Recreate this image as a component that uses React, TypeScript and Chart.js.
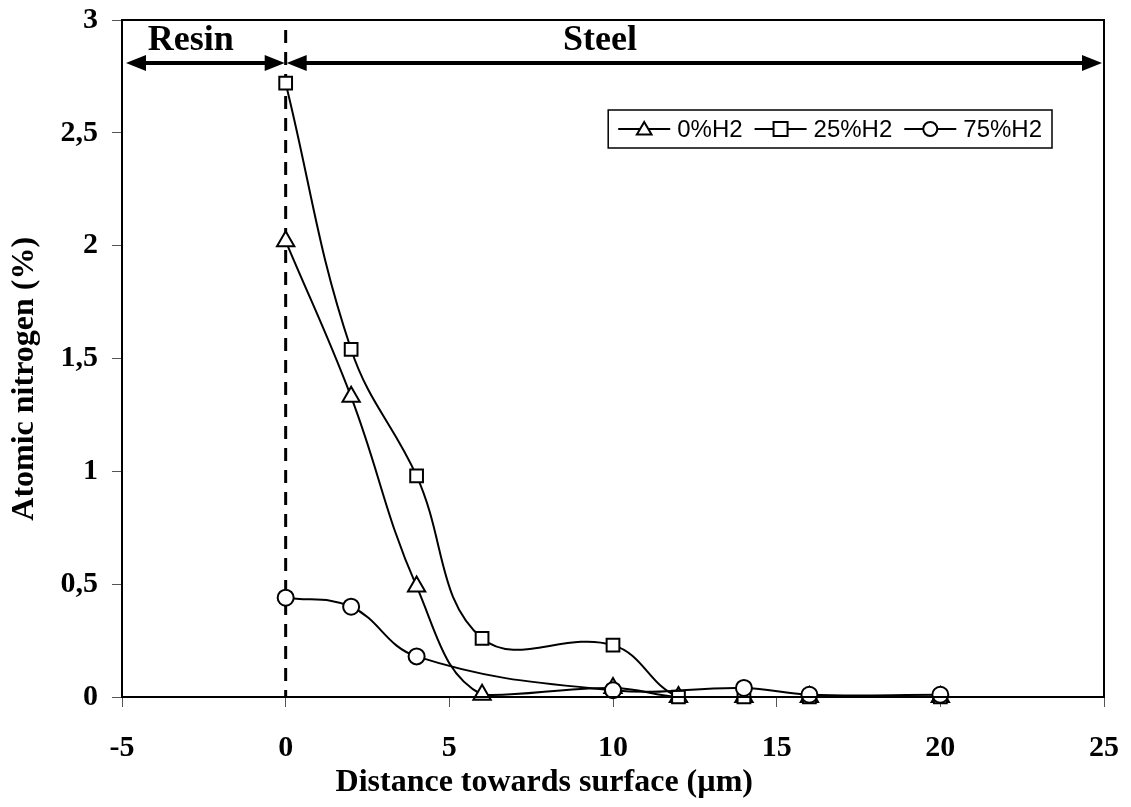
import React, { useEffect, useRef } from "react";
import { Chart, registerables } from "chart.js";

Chart.register(...registerables);

// ---- data ----
const distances = [0, 2, 4, 6, 10, 12, 14, 16, 20];
const nitrogen0 = [2.02, 1.33, 0.49, 0.01, 0.04, 0.0, 0.0, 0.0, 0.0];
const nitrogen25 = [2.72, 1.54, 0.98, 0.26, 0.23, 0.0, 0.0, 0.0, 0.0];
const distances75 = [0, 2, 4, 10, 14, 16, 20];
const nitrogen75 = [0.44, 0.4, 0.18, 0.03, 0.04, 0.01, 0.01];
const seriesNames = ["0%H2", "25%H2", "75%H2"];
const seriesMarkers = ["triangle", "rect", "circle"];
const regionLabels = ["Resin", "Steel"];
const xTitle = "Distance towards surface (µm)";
const yTitle = "Atomic nitrogen (%)";
const xTicksMin = -5;
const xTicksMax = 25;
const yTicksMin = 0;
const yTicksMax = 3;

const SERIF = "'Liberation Serif', 'Times New Roman', serif";
const SANS = "'Liberation Sans', Arial, sans-serif";

function drawMarker(ctx: CanvasRenderingContext2D, style: string, cx: number, cy: number, r: number) {
  ctx.beginPath();
  if (style === "triangle") {
    const w = r * 1.05;
    ctx.moveTo(cx, cy - r);
    ctx.lineTo(cx + w, cy + r * 0.8);
    ctx.lineTo(cx - w, cy + r * 0.8);
    ctx.closePath();
  } else if (style === "rect") {
    ctx.rect(cx - r, cy - r, 2 * r, 2 * r);
  } else {
    ctx.arc(cx, cy, r, 0, Math.PI * 2);
  }
  ctx.fillStyle = "#fff";
  ctx.fill();
  ctx.stroke();
}

function drawArrow(ctx: CanvasRenderingContext2D, xa: number, xb: number, y: number) {
  const head = 20;
  const half = 8;
  ctx.lineWidth = 4;
  ctx.beginPath();
  ctx.moveTo(xa + head - 2, y);
  ctx.lineTo(xb - head + 2, y);
  ctx.stroke();
  ctx.beginPath();
  ctx.moveTo(xa, y);
  ctx.lineTo(xa + head, y - half);
  ctx.lineTo(xa + head, y + half);
  ctx.closePath();
  ctx.fill();
  ctx.beginPath();
  ctx.moveTo(xb, y);
  ctx.lineTo(xb - head, y - half);
  ctx.lineTo(xb - head, y + half);
  ctx.closePath();
  ctx.fill();
}

const annotationPlugin = {
  id: "annotations",
  beforeDatasetsDraw(chart: any) {
    const { ctx, chartArea: a, scales } = chart;
    const x0 = scales.x.getPixelForValue(0);
    ctx.save();
    ctx.strokeStyle = "#000";
    ctx.lineWidth = 3;
    ctx.setLineDash([13, 9]);
    ctx.beginPath();
    ctx.moveTo(x0, a.top + 10);
    ctx.lineTo(x0, a.bottom);
    ctx.stroke();
    ctx.restore();
  },
  afterDatasetsDraw(chart: any) {
    const { ctx, chartArea: a, scales } = chart;
    const xs = scales.x;
    const ys = scales.y;
    ctx.save();
    // frame
    ctx.strokeStyle = "#000";
    ctx.lineWidth = 2;
    ctx.strokeRect(a.left, a.top, a.right - a.left, a.bottom - a.top);

    // axis titles
    ctx.fillStyle = "#000";
    ctx.font = `bold 32px ${SERIF}`;
    ctx.textAlign = "center";
    ctx.textBaseline = "middle";
    ctx.fillText(xTitle, xs.getPixelForValue(7.9), chart.height - 24);
    ctx.save();
    ctx.translate(25, ys.getPixelForValue(1.41));
    ctx.rotate(-Math.PI / 2);
    ctx.fillText(yTitle, 0, 0);
    ctx.restore();

    // region arrows
    const ay = ys.getPixelForValue(2.81);
    drawArrow(ctx, xs.getPixelForValue(-5) + 4, xs.getPixelForValue(0) - 1, ay);
    drawArrow(ctx, xs.getPixelForValue(0) + 1, xs.getPixelForValue(25) - 2, ay);

    ctx.font = `bold 36px ${SERIF}`;
    ctx.textAlign = "center";
    ctx.textBaseline = "alphabetic";
    const ty = ys.getPixelForValue(2.866);
    ctx.fillText(regionLabels[0], xs.getPixelForValue(-2.9), ty);
    ctx.fillText(regionLabels[1], xs.getPixelForValue(9.6), ty);

    // legend
    ctx.font = `24px ${SANS}`;
    const lineLen = 52;
    const gapText = 7;
    const gapItem = 12;
    const pad = 10;
    const widths = seriesNames.map((n) => ctx.measureText(n).width);
    const total =
      widths.reduce((s, w) => s + w, 0) + seriesNames.length * (lineLen + gapText) + (seriesNames.length - 1) * gapItem + 2 * pad;
    const right = a.right - 52;
    const top = a.top + 90;
    const h = 38;
    const left = right - total;
    ctx.lineWidth = 1.5;
    ctx.strokeRect(left, top, total, h);
    let cx = left + pad;
    const cy = top + h / 2;
    ctx.textAlign = "left";
    ctx.textBaseline = "middle";
    seriesNames.forEach((n, i) => {
      ctx.lineWidth = 2;
      ctx.beginPath();
      ctx.moveTo(cx, cy);
      ctx.lineTo(cx + lineLen, cy);
      ctx.stroke();
      drawMarker(ctx, seriesMarkers[i], cx + lineLen / 2, cy, 7);
      ctx.fillStyle = "#000";
      ctx.fillText(n, cx + lineLen + gapText, cy + 1);
      cx += lineLen + gapText + widths[i] + gapItem;
    });
    ctx.restore();
  },
};

export default function App() {
  const ref = useRef<HTMLCanvasElement | null>(null);
  useEffect(() => {
    if (!ref.current) return;
    const common = {
      borderColor: "#000",
      borderWidth: 2,
      pointBackgroundColor: "#fff",
      pointBorderColor: "#000",
      pointBorderWidth: 2,
      pointRadius: 8,
      tension: 0.4,
      clip: false as const,
      showLine: true,
    };
    const chart = new Chart(ref.current, {
      type: "scatter",
      data: {
        datasets: [
          {
            ...common,
            label: seriesNames[0],
            data: distances.map((d, i) => ({ x: d, y: nitrogen0[i] })),
            pointStyle: "triangle",
            pointRadius: 10,
            order: 2,
          },
          {
            ...common,
            label: seriesNames[1],
            data: distances.map((d, i) => ({ x: d, y: nitrogen25[i] })),
            pointStyle: "rect",
            pointRadius: 9,
            order: 1,
          },
          {
            ...common,
            label: seriesNames[2],
            data: distances75.map((d, i) => ({ x: d, y: nitrogen75[i] })),
            pointStyle: "circle",
            order: 0,
          },
        ],
      },
      options: {
        animation: false,
        responsive: true,
        maintainAspectRatio: false,
        layout: { padding: { left: 0, right: 27, top: 20, bottom: 0 } },
        plugins: { legend: { display: false }, tooltip: { enabled: false } },
        scales: {
          x: {
            type: "linear",
            min: xTicksMin,
            max: xTicksMax,
            afterFit: (s: any) => {
              s.height = 110;
              s.paddingLeft = 0;
              s.paddingRight = 0;
              s.paddingTop = 0;
              s.paddingBottom = 0;
            },
            ticks: {
              stepSize: 5,
              color: "#000",
              padding: 23,
              font: { family: SERIF, size: 30, weight: "bold" },
            },
            grid: { drawOnChartArea: false, drawTicks: true, tickLength: 10, color: "#555" },
            border: { display: true, color: "#000", width: 2 },
          },
          y: {
            type: "linear",
            min: yTicksMin,
            max: yTicksMax,
            afterFit: (s: any) => {
              s.width = 122;
              s.paddingLeft = 0;
              s.paddingRight = 0;
              s.paddingTop = 0;
              s.paddingBottom = 0;
            },
            ticks: {
              stepSize: 0.5,
              color: "#000",
              padding: 14,
              font: { family: SERIF, size: 30, weight: "bold" },
              callback: (v: any) => String(v).replace(".", ","),
            },
            grid: { drawOnChartArea: false, drawTicks: true, tickLength: 10, color: "#555" },
            border: { display: true, color: "#000", width: 2 },
          },
        },
      },
      plugins: [annotationPlugin],
    } as any);
    return () => chart.destroy();
  }, []);
  return (
    <div style={{ position: "fixed", left: 0, top: 0, width: 1131, height: 807, background: "#fff" }}>
      <canvas ref={ref} />
    </div>
  );
}
